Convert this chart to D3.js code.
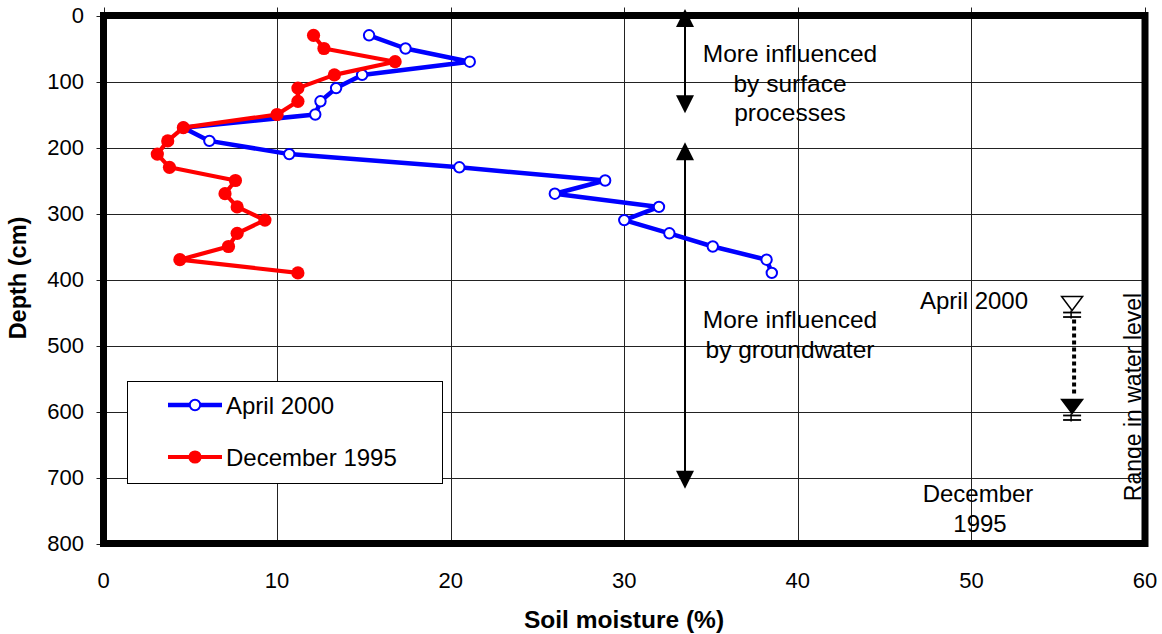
<!DOCTYPE html>
<html>
<head>
<meta charset="utf-8">
<script src="https://cdn.jsdelivr.net/npm/d3@7"></script>
<style>
  html, body { margin: 0; padding: 0; background: #fff; }
  svg { display: block; font-family: "Liberation Sans", Arial, sans-serif; }
</style>
</head>
<body>
<svg id="chart" width="1162" height="634"></svg>
<script>
// ---- data ----
const depths = [30, 50, 70, 90, 110, 130, 150, 170, 190, 210, 230, 250, 270, 290, 310, 330, 350, 370, 390];
const april2000 = [15.3, 17.4, 21.1, 14.9, 13.4, 12.5, 12.2, 4.6, 6.1, 10.7, 20.5, 28.9, 26.0, 32.0, 30.0, 32.6, 35.1, 38.2, 38.5];
const december1995 = [12.1, 12.7, 16.8, 13.3, 11.2, 11.2, 10.0, 4.6, 3.7, 3.1, 3.8, 7.6, 7.0, 7.7, 9.3, 7.7, 7.2, 4.4, 11.2];
const seriesNames = ["April 2000", "December 1995"];
const xTicks = [0, 10, 20, 30, 40, 50, 60];
const yTicks = [0, 100, 200, 300, 400, 500, 600, 700, 800];
const xTitle = "Soil moisture (%)";
const yTitle = "Depth (cm)";
const zoneArrows = [[-10, 148], [192, 717]];   // depth extents of the two arrows
const zoneLabels = [["More influenced", "by surface", "processes"], ["More influenced", "by groundwater"]];
const waterLevels = [447, 603];                // depth of water level markers

// ---- layout ----
const svg = d3.select("#chart");
const L = 103.5, R = 1145, T = 15.5, B = 543.5;
const x = d3.scaleLinear().domain([0, 60]).range([L, R]);
const y = d3.scaleLinear().domain([0, 800]).range([T, B]);

// gridlines + small outer ticks
const grid = svg.append("g").attr("stroke", "#222").attr("stroke-width", 1);
grid.selectAll(".vg").data(xTicks).join("line")
  .attr("x1", d => Math.round(x(d)) + 0.5).attr("x2", d => Math.round(x(d)) + 0.5)
  .attr("y1", T - 8).attr("y2", B);
grid.selectAll(".hg").data(yTicks).join("line")
  .attr("y1", d => Math.round(y(d)) + 0.5).attr("y2", d => Math.round(y(d)) + 0.5)
  .attr("x1", L - 7).attr("x2", R);

// tick labels
svg.append("g").selectAll("text").data(yTicks).join("text")
  .attr("x", 84).attr("y", d => y(d)).attr("dy", "0.36em")
  .attr("text-anchor", "end").attr("font-size", 22).text(d => d);
svg.append("g").selectAll("text").data(xTicks).join("text")
  .attr("x", d => x(d)).attr("y", 588)
  .attr("text-anchor", "middle").attr("font-size", 22).text(d => d);

// axis titles
svg.append("text").attr("x", 624).attr("y", 628).attr("text-anchor", "middle")
  .attr("font-size", 24.5).attr("font-weight", "bold").text(xTitle);
svg.append("text").attr("transform", "translate(26,278) rotate(-90)").attr("text-anchor", "middle")
  .attr("font-size", 23.5).attr("font-weight", "bold").text(yTitle);

// zone arrows
const arrowX = x(33.5);
const ag = svg.append("g");
zoneArrows.forEach(([d0, d1]) => {
  const y0 = y(d0), y1 = y(d1);
  ag.append("line").attr("x1", arrowX).attr("x2", arrowX).attr("y1", y0 + 10).attr("y2", y1 - 10)
    .attr("stroke", "#000").attr("stroke-width", 2);
  ag.append("path").attr("d", `M${arrowX},${y0} L${arrowX - 9},${y0 + 18} L${arrowX + 9},${y0 + 18} Z`).attr("fill", "#000");
  ag.append("path").attr("d", `M${arrowX},${y1} L${arrowX - 9},${y1 - 18} L${arrowX + 9},${y1 - 18} Z`).attr("fill", "#000");
});
// zone labels
const zoneLabelPos = [[790, 62], [790, 328]];
zoneLabels.forEach((lines, i) => {
  const t = svg.append("text").attr("text-anchor", "middle").attr("font-size", 24.5).attr("fill", "#000");
  lines.forEach((s, j) => t.append("tspan").attr("x", zoneLabelPos[i][0]).attr("y", zoneLabelPos[i][1] + j * 29.7).text(s));
});

// water level labels
svg.append("text").attr("x", 974).attr("y", 309).attr("text-anchor", "middle").attr("font-size", 24).text(seriesNames[0]);
const dec = svg.append("text").attr("text-anchor", "middle").attr("font-size", 24);
dec.append("tspan").attr("x", 978).attr("y", 502).text("December");
dec.append("tspan").attr("x", 980).attr("y", 532).text("1995");

// water level symbols
const wx = x(55.8);
const wg = svg.append("g").attr("stroke", "#000");
function wlSymbol(depth, filled) {
  const ty = y(depth);
  wg.append("path").attr("d", `M${wx - 10.5},${ty - 14} L${wx + 10.5},${ty - 14} L${wx},${ty} Z`)
    .attr("fill", filled ? "#000" : "#fff").attr("stroke-width", 1.5);
  wg.append("line").attr("x1", wx - 9).attr("x2", wx + 9).attr("y1", ty + 2).attr("y2", ty + 2).attr("stroke-width", 1.8);
  wg.append("line").attr("x1", wx - 9).attr("x2", wx + 9).attr("y1", ty + 6.5).attr("y2", ty + 6.5).attr("stroke-width", 1.8);
  wg.append("line").attr("x1", wx - 1).attr("x2", wx - 1).attr("y1", ty).attr("y2", ty + 8).attr("stroke-width", 1.5);
}
wlSymbol(waterLevels[0], false);
wlSymbol(waterLevels[1], true);
wg.append("line").attr("x1", wx + 2).attr("x2", wx + 2).attr("y1", y(waterLevels[0]) + 9).attr("y2", y(waterLevels[1]) - 17)
  .attr("stroke-width", 4).attr("stroke-dasharray", "4,3");

svg.append("text").attr("transform", `translate(1141,397) rotate(-90)`).attr("text-anchor", "middle")
  .attr("font-size", 23).text("Range in water level");

// series
const colors = ["#0000ff", "#ff0000"];
const line = d3.line().x(d => x(d[0])).y(d => y(d[1]));
const aprilPts = depths.map((d, i) => [april2000[i], d]);
const decPts = depths.map((d, i) => [december1995[i], d]);

svg.append("path").datum(aprilPts).attr("d", line).attr("fill", "none")
  .attr("stroke", colors[0]).attr("stroke-width", 4.5).attr("stroke-linejoin", "round");
svg.append("g").selectAll("circle").data(aprilPts).join("circle")
  .attr("cx", d => x(d[0])).attr("cy", d => y(d[1])).attr("r", 5.2)
  .attr("fill", "#fff").attr("stroke", colors[0]).attr("stroke-width", 2);

svg.append("path").datum(decPts).attr("d", line).attr("fill", "none")
  .attr("stroke", colors[1]).attr("stroke-width", 4.2).attr("stroke-linejoin", "round");
svg.append("g").selectAll("circle").data(decPts).join("circle")
  .attr("cx", d => x(d[0])).attr("cy", d => y(d[1])).attr("r", 6.6)
  .attr("fill", colors[1]);

// legend
const lg = svg.append("g");
lg.append("rect").attr("x", 127.5).attr("y", 381.5).attr("width", 315).attr("height", 102)
  .attr("fill", "#fff").attr("stroke", "#000").attr("stroke-width", 1);
[0, 1].forEach(i => {
  const ly = 405 + i * 52;
  lg.append("line").attr("x1", 168).attr("x2", 222).attr("y1", ly).attr("y2", ly)
    .attr("stroke", colors[i]).attr("stroke-width", i === 0 ? 4.5 : 4.2);
  if (i === 0) {
    lg.append("circle").attr("cx", 195).attr("cy", ly).attr("r", 5.2).attr("fill", "#fff")
      .attr("stroke", colors[0]).attr("stroke-width", 2);
  } else {
    lg.append("circle").attr("cx", 195).attr("cy", ly).attr("r", 6.6).attr("fill", colors[1]);
  }
  lg.append("text").attr("x", 226).attr("y", ly + 9).attr("font-size", 24).text(seriesNames[i]);
});

// heavy frame
svg.append("rect").attr("x", L).attr("y", T).attr("width", R - L).attr("height", B - T)
  .attr("fill", "none").attr("stroke", "#000").attr("stroke-width", 7);
</script>
</body>
</html>
